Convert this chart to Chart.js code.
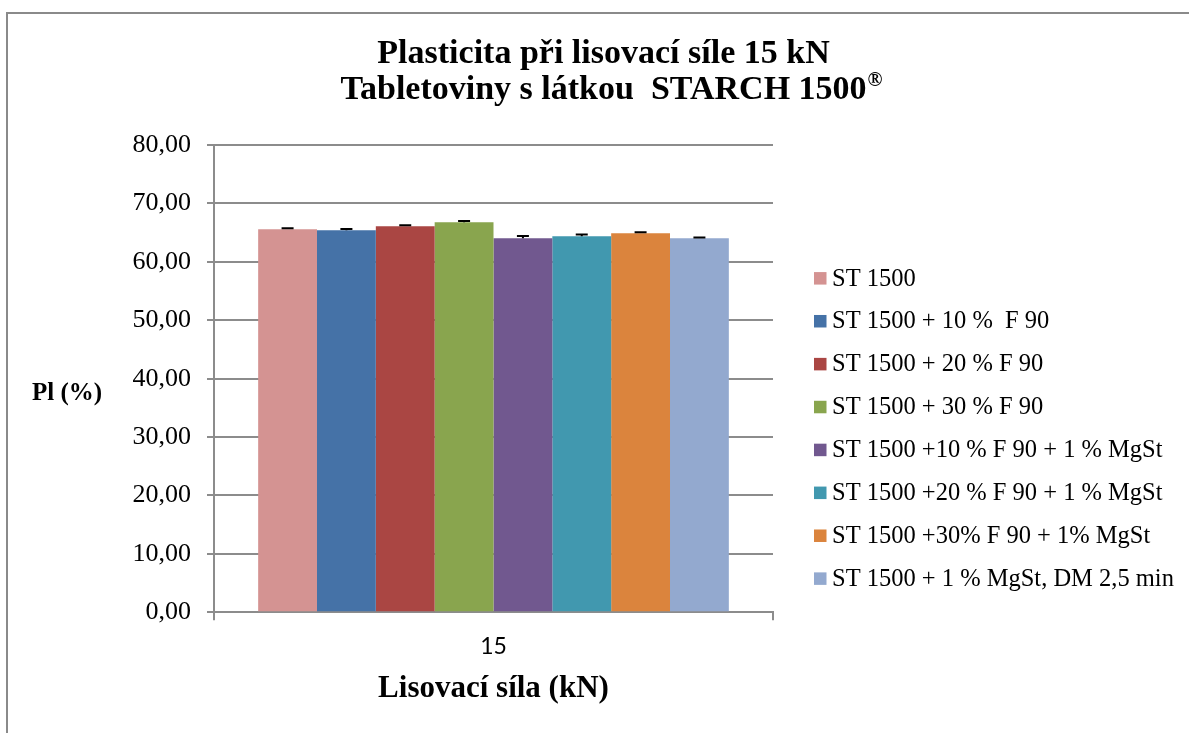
<!DOCTYPE html>
<html>
<head>
<meta charset="utf-8">
<script src="https://cdn.jsdelivr.net/npm/chart.js@4/dist/chart.umd.min.js"></script>
<style>
  html, body { margin: 0; padding: 0; background: #fff; }
  canvas { display: block; }
</style>
</head>
<body>
<canvas id="chart" width="1189" height="733"></canvas>
<script>
// chart data
const categories = ['15'];
const seriesLabels = [
    'ST 1500',
    'ST 1500 + 10 %  F 90',
    'ST 1500 + 20 % F 90',
    'ST 1500 + 30 % F 90',
    'ST 1500 +10 % F 90 + 1 % MgSt',
    'ST 1500 +20 % F 90 + 1 % MgSt',
    'ST 1500 +30% F 90 + 1% MgSt',
    'ST 1500 + 1 % MgSt, DM 2,5 min'
];
const values = [65.58, 65.41, 66.10, 66.79, 64.04, 64.38, 64.90, 64.04];
const errors = [0.20, 0.22, 0.17, 0.22, 0.40, 0.29, 0.17, 0.12];
const colors = ['#D49392', '#4572A7', '#AA4643', '#89A54E', '#71588F', '#4198AF', '#DB843D', '#93A9CF'];
const yMin = 0, yMax = 80, yStep = 10;

const titleLines = ['Plasticita při lisovací síle 15 kN', 'Tabletoviny s látkou  STARCH 1500'];
const titleMark = '®';   // drawn raised after the second title line
const yTitle = 'Pl (%)';
const xTitle = 'Lisovací síla (kN)';

const serif = "'Liberation Serif', 'Times New Roman', serif";
const gridColor = '#8c8c8c';
const titleSize = 34;

// white page + the frame lines (only top and left are visible)
const framePlugin = {
    id: 'frame',
    beforeDraw(chart) {
        const ctx = chart.ctx;
        ctx.save();
        ctx.fillStyle = '#fff';
        ctx.fillRect(0, 0, chart.width, chart.height);
        ctx.strokeStyle = '#8a8a8a';
        ctx.lineWidth = 2;
        ctx.beginPath();
        ctx.moveTo(7, chart.height);
        ctx.lineTo(7, 13);
        ctx.lineTo(chart.width, 13);
        ctx.stroke();
        ctx.restore();
    }
};

// plus error bars
const errorBarPlugin = {
    id: 'errorBars',
    afterDatasetsDraw(chart) {
        const ctx = chart.ctx;
        const yScale = chart.scales.y;
        ctx.save();
        ctx.strokeStyle = '#000';
        ctx.lineWidth = 2;
        chart.data.datasets.forEach((ds, i) => {
            const meta = chart.getDatasetMeta(i);
            meta.data.forEach((bar, j) => {
                const top = yScale.getPixelForValue(ds.data[j] + errors[i]);
                ctx.beginPath();
                ctx.moveTo(bar.x, bar.y);
                ctx.lineTo(bar.x, top);
                ctx.moveTo(bar.x - 6, top);
                ctx.lineTo(bar.x + 6, top);
                ctx.stroke();
            });
        });
        ctx.restore();
    }
};

// horizontal y title, the legend on the right and the raised ® in the title
const labelsPlugin = {
    id: 'labels',
    afterDraw(chart) {
        const ctx = chart.ctx;
        const area = chart.chartArea;
        ctx.save();
        ctx.fillStyle = '#000';
        ctx.textBaseline = 'middle';
        ctx.textAlign = 'left';
        ctx.font = 'bold 25px ' + serif;
        ctx.fillText(yTitle, 32, (area.top + area.bottom) / 2 + 15);

        ctx.font = '24.5px ' + serif;
        const x0 = area.right + 41;
        chart.data.datasets.forEach((ds, i) => {
            const y = area.top + 133 + i * 42.9;
            ctx.fillStyle = ds.backgroundColor;
            ctx.fillRect(x0, y - 6, 12.5, 12.5);
            ctx.fillStyle = '#000';
            ctx.fillText(ds.label, x0 + 18, y + 1);
        });

        // ® after the second title line
        const tb = chart.titleBlock;
        const lh = titleSize * 1.06;
        ctx.font = 'bold ' + titleSize + 'px ' + serif;
        const w = ctx.measureText(titleLines[1]).width;
        const cx = (tb.left + tb.right) / 2;
        const line2Mid = tb.top + 36 + lh * 1.5;
        ctx.font = 'bold 20px ' + serif;
        ctx.fillText(titleMark, cx + w / 2 + 1, line2Mid - 9);
        ctx.restore();
    }
};

const datasets = seriesLabels.map((label, i) => ({
    label: label,
    data: [values[i]],
    backgroundColor: colors[i],
    borderWidth: 0,
    categoryPercentage: 0.842,
    barPercentage: 1
}));

new Chart(document.getElementById('chart'), {
    type: 'bar',
    data: { labels: categories, datasets: datasets },
    plugins: [framePlugin, errorBarPlugin, labelsPlugin],
    options: {
        responsive: false,
        animation: false,
        devicePixelRatio: 1,
        layout: { padding: { left: 18, right: 0, top: 0, bottom: 0 } },
        plugins: {
            legend: { display: false },
            tooltip: { enabled: false },
            title: {
                display: true,
                text: titleLines,
                color: '#000',
                font: { family: serif, size: titleSize, weight: 'bold', lineHeight: 1.06 },
                padding: { top: 36, bottom: 37 }
            }
        },
        scales: {
            x: {
                offset: true,
                grid: {
                    display: true,
                    drawOnChartArea: false,
                    offset: true,
                    tickLength: 8,
                    color: gridColor,
                    lineWidth: 2
                },
                border: { display: true, color: gridColor, width: 2 },
                ticks: {
                    color: '#000',
                    padding: 12,
                    font: { family: "Lato, 'Open Sans', sans-serif", size: 23 }
                },
                title: {
                    display: true,
                    text: xTitle,
                    color: '#000',
                    font: { family: serif, size: 31, weight: 'bold', lineHeight: 1.1 },
                    padding: { top: 0, bottom: 27 }
                }
            },
            y: {
                min: yMin,
                max: yMax,
                afterFit(scale) { scale.width = 196; },
                grid: { color: gridColor, lineWidth: 2, tickLength: 7 },
                border: { display: true, color: gridColor, width: 2 },
                ticks: {
                    stepSize: yStep,
                    color: '#000',
                    padding: 16,
                    font: { family: serif, size: 26 },
                    callback: v => v.toFixed(2).replace('.', ',')
                }
            },
            // empty axis that only keeps the room for the legend
            legendRoom: {
                type: 'linear',
                position: 'right',
                display: true,
                afterFit(scale) { scale.width = 416; },
                grid: { display: false },
                border: { display: false },
                ticks: { display: false }
            }
        }
    }
});
</script>
</body>
</html>
